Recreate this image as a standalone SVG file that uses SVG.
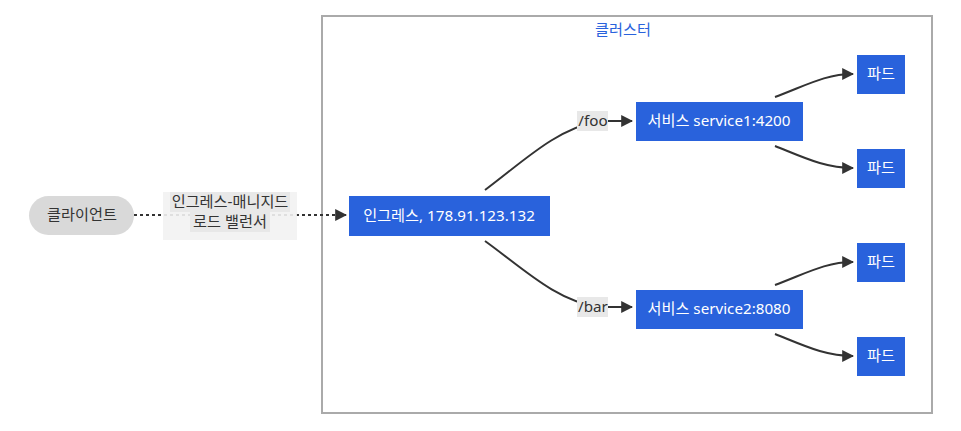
<svg xmlns="http://www.w3.org/2000/svg" width="961" height="431" viewBox="0 0 961 431">
<style>
text{font-family:"Noto Sans","Noto Sans CJK KR",sans-serif;font-size:15.2px;text-anchor:middle;dominant-baseline:central}
.blue rect{fill:#2962dc}
.blue text{fill:#fff}
.edge{fill:none;stroke:#333;stroke-width:2}
.lbl{fill:#e8e8e8}
.lt{fill:#333}
</style>
<defs>
<marker id="ah2" viewBox="0 0 10 10" refX="9" refY="5" markerWidth="12" markerHeight="12" orient="auto" markerUnits="userSpaceOnUse">
<path d="M0,0 L10,5 L0,10 z" fill="#333"/>
</marker>
</defs>
<rect x="0" y="0" width="961" height="431" fill="#fff"/>
<g id="cluster">
<rect x="322" y="16" width="610" height="397" fill="#fff" stroke="#aaa" stroke-width="2"/>
<text x="623" y="29" fill="#2962dc">클러스터</text>
</g>
<g id="connectors">
<path class="edge" d="M134,215 L346,215" stroke-dasharray="3,3" marker-end="url(#ah2)"/>
<path class="edge" d="M485,190 C525,160 555,130 598,121 L632,121" marker-end="url(#ah2)"/>
<path class="edge" d="M485,241 C525,270 555,300 598,307 L632,307" marker-end="url(#ah2)"/>
<path class="edge" d="M775,97 C805,86 825,74 853,74" marker-end="url(#ah2)"/>
<path class="edge" d="M775,146 C805,158 825,168 853,168" marker-end="url(#ah2)"/>
<path class="edge" d="M775,285 C805,274 825,262 853,262" marker-end="url(#ah2)"/>
<path class="edge" d="M775,334 C805,346 825,356 853,356" marker-end="url(#ah2)"/>
<rect x="163" y="192" width="134" height="48" fill="#f2f2f2" opacity="0.9"/>
<rect x="170" y="192" width="120" height="20" class="lbl"/>
<rect x="190" y="212" width="80" height="20" class="lbl"/>
<text x="230" y="201" class="lt">인그레스-매니지드</text>
<text x="230" y="221" class="lt">로드 밸런서</text>
<rect x="577" y="111" width="31" height="20" class="lbl"/>
<text x="593" y="120" class="lt">/foo</text>
<rect x="577" y="297" width="31" height="20" class="lbl"/>
<text x="593" y="306" class="lt">/bar</text>
</g>
<g id="client">
<rect x="29" y="196" width="105" height="39" rx="19.5" fill="#d9d9d9"/>
<text x="82" y="214" fill="#333">클라이언트</text>
</g>
<g id="ingress" class="blue">
<rect x="349" y="196" width="201" height="40"/>
<text x="449" y="215">인그레스, 178.91.123.132</text>
</g>
<g id="service1" class="blue">
<rect x="636" y="102" width="167" height="39"/>
<text x="719" y="120">서비스 service1:4200</text>
</g>
<g id="service2" class="blue">
<rect x="636" y="290" width="167" height="39"/>
<text x="719" y="308">서비스 service2:8080</text>
</g>
<g id="pod1" class="blue">
<rect x="857" y="55" width="48" height="39"/>
<text x="881" y="73">파드</text>
</g>
<g id="pod2" class="blue">
<rect x="857" y="149" width="48" height="39"/>
<text x="881" y="167">파드</text>
</g>
<g id="pod3" class="blue">
<rect x="857" y="243" width="48" height="39"/>
<text x="881" y="261">파드</text>
</g>
<g id="pod4" class="blue">
<rect x="857" y="337" width="48" height="39"/>
<text x="881" y="355">파드</text>
</g>
</svg>
